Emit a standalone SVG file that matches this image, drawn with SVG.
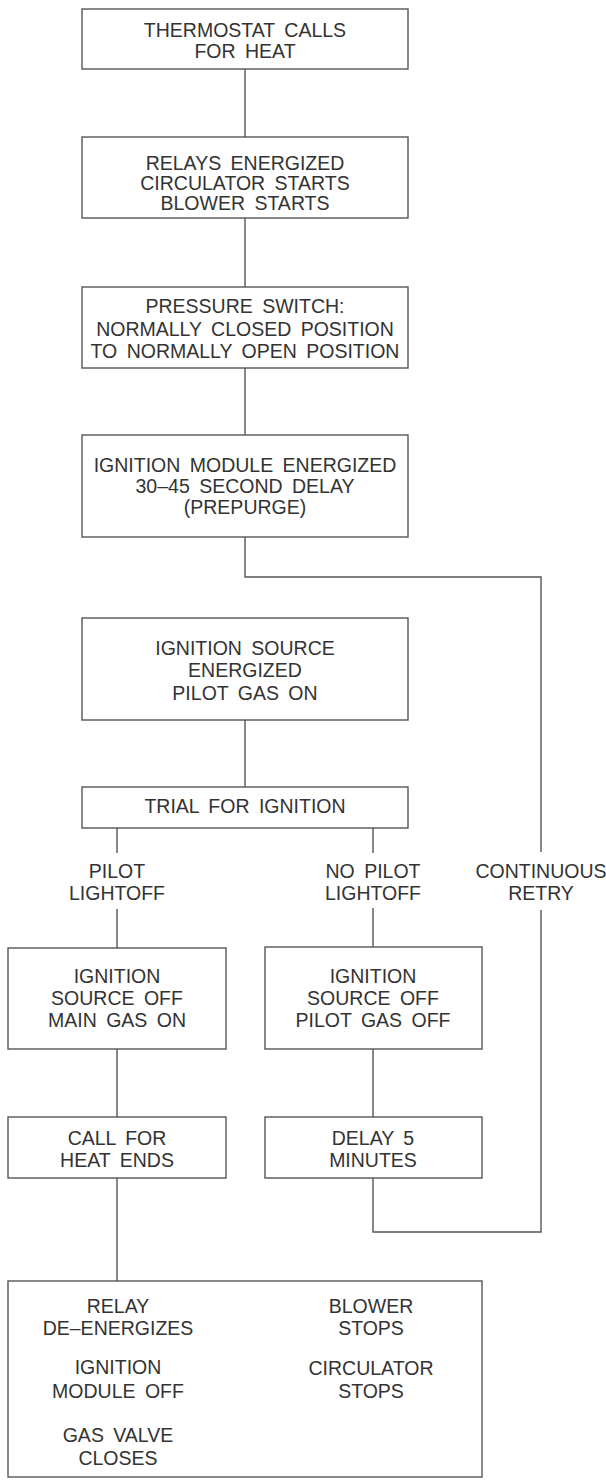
<svg xmlns="http://www.w3.org/2000/svg" width="606" height="1481" viewBox="0 0 606 1481">
<style>
.box{fill:#fff;stroke:#555;stroke-width:1.4}
.ln{fill:none;stroke:#555;stroke-width:1.4}
text{font-family:"Liberation Sans",Arial,sans-serif;font-size:19.5px;fill:#333;text-anchor:middle;word-spacing:4px}
</style>
<rect width="606" height="1481" fill="#fff"/>
<g id="connectors">
<path class="ln" d="M245 69V137M245 218V287M245 368V435M245 720V787"/>
<path class="ln" d="M245 537V577H541V852M541 910V1232H373V1178"/>
<path class="ln" d="M117 828V853M117 909V948M373 828V853M373 908V947"/>
<path class="ln" d="M117 1049V1117M117 1178V1281M373 1049V1117"/>
</g>
<g id="n1"><rect class="box" x="82" y="9" width="326" height="60"/>
<text x="245" y="37">THERMOSTAT CALLS</text><text x="245" y="58">FOR HEAT</text></g>
<g id="n2"><rect class="box" x="82" y="137" width="326" height="81"/>
<text x="245" y="170">RELAYS ENERGIZED</text><text x="245" y="190">CIRCULATOR STARTS</text><text x="245" y="210">BLOWER STARTS</text></g>
<g id="n3"><rect class="box" x="82" y="287" width="326" height="81"/>
<text x="245" y="313">PRESSURE SWITCH:</text><text x="245" y="336">NORMALLY CLOSED POSITION</text><text x="245" y="358">TO NORMALLY OPEN POSITION</text></g>
<g id="n4"><rect class="box" x="82" y="435" width="326" height="102"/>
<text x="245" y="472">IGNITION MODULE ENERGIZED</text><text x="245" y="493">30–45 SECOND DELAY</text><text x="245" y="514">(PREPURGE)</text></g>
<g id="n5"><rect class="box" x="82" y="618" width="326" height="102"/>
<text x="245" y="655">IGNITION SOURCE</text><text x="245" y="677">ENERGIZED</text><text x="245" y="700">PILOT GAS ON</text></g>
<g id="n6"><rect class="box" x="82" y="787" width="326" height="41"/>
<text x="245" y="813">TRIAL FOR IGNITION</text></g>
<g id="lbl-pilot"><text x="117" y="878">PILOT</text><text x="117" y="900">LIGHTOFF</text></g>
<g id="lbl-nopilot"><text x="373" y="878">NO PILOT</text><text x="373" y="900">LIGHTOFF</text></g>
<g id="lbl-retry"><text x="541" y="878">CONTINUOUS</text><text x="541" y="900">RETRY</text></g>
<g id="n7"><rect class="box" x="8" y="948" width="218" height="101"/>
<text x="117" y="983">IGNITION</text><text x="117" y="1005">SOURCE OFF</text><text x="117" y="1027">MAIN GAS ON</text></g>
<g id="n8"><rect class="box" x="265" y="947" width="217" height="102"/>
<text x="373" y="983">IGNITION</text><text x="373" y="1005">SOURCE OFF</text><text x="373" y="1027">PILOT GAS OFF</text></g>
<g id="n9"><rect class="box" x="8" y="1117" width="218" height="61"/>
<text x="117" y="1145">CALL FOR</text><text x="117" y="1167">HEAT ENDS</text></g>
<g id="n10"><rect class="box" x="265" y="1117" width="217" height="61"/>
<text x="373" y="1145">DELAY 5</text><text x="373" y="1167">MINUTES</text></g>
<g id="n11"><rect class="box" x="8" y="1281" width="474" height="196"/>
<text x="118" y="1313">RELAY</text><text x="118" y="1335">DE–ENERGIZES</text>
<text x="118" y="1374">IGNITION</text><text x="118" y="1398">MODULE OFF</text>
<text x="118" y="1442">GAS VALVE</text><text x="118" y="1465">CLOSES</text>
<text x="371" y="1313">BLOWER</text><text x="371" y="1335">STOPS</text>
<text x="371" y="1375">CIRCULATOR</text><text x="371" y="1398">STOPS</text></g>
</svg>
